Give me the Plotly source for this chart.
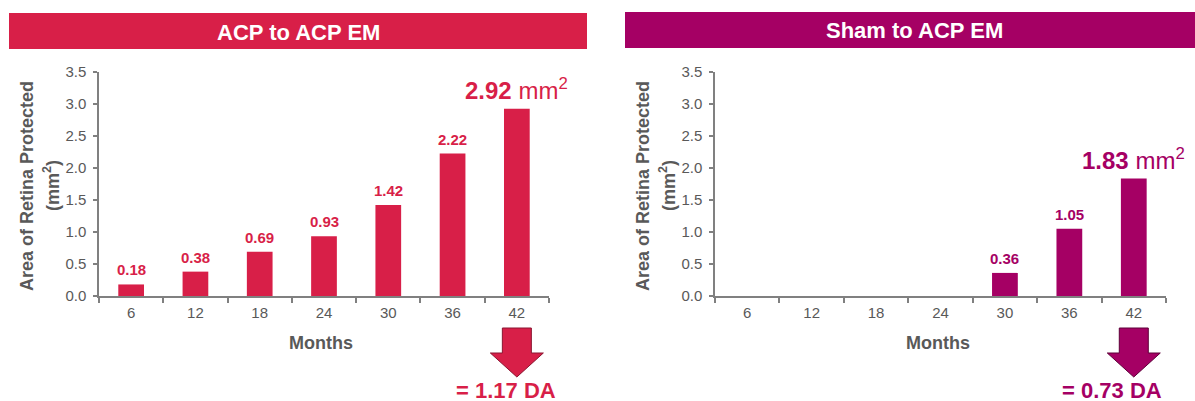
import plotly.graph_objects as go

# ---------------- data ----------------
months = ["6", "12", "18", "24", "30", "36", "42"]
acp_values = [0.18, 0.38, 0.69, 0.93, 1.42, 2.22, 2.92]
sham_values = [None, None, None, None, 0.36, 1.05, 1.83]
panel_titles = ["ACP to ACP EM", "Sham to ACP EM"]
da_labels = ["= 1.17 DA", "= 0.73 DA"]
y_ticks = [0.0, 0.5, 1.0, 1.5, 2.0, 2.5, 3.0, 3.5]

# ---------------- style ----------------
W, H = 1195, 401
RED = "#D81F48"
RED_DARK = "#8A1530"
PURPLE = "#A50064"
PURPLE_DARK = "#5E0039"
AXIS = "#808080"
TEXT = "#595959"
FONT = "Liberation Sans, Arial, sans-serif"

def fx(p):
    return p / W

def fy(p):
    return 1 - p / H

panels = [
    dict(values=acp_values, color=RED, dark=RED_DARK, x0=99, x1=549,
         hdr=(9, 587, 13, 49), title_x=298, da_x=506, xa="x", ya="y"),
    dict(values=sham_values, color=PURPLE, dark=PURPLE_DARK, x0=715, x1=1166,
         hdr=(625, 1195, 12, 48), title_x=914, da_x=1112, xa="x2", ya="y2"),
]
Y0_PX, Y1_PX = 296, 71.5

fig = go.Figure()
annotations = []
shapes = []

def paper_text(xp, yp, text, size, color, angle=0):
    return dict(x=fx(xp), y=fy(yp), xref="paper", yref="paper", showarrow=False,
                xanchor="center", yanchor="middle", textangle=angle, text=text,
                font=dict(family=FONT, size=size, color=color))

for i, p in enumerate(panels):
    fig.add_trace(go.Bar(
        x=months, y=p["values"], width=0.4,
        marker=dict(color=p["color"], line=dict(width=0)),
        xaxis=p["xa"], yaxis=p["ya"], showlegend=False, hoverinfo="x+y",
    ))
    # value labels (x given as category index)
    last = len(months) - 1
    for j, v in enumerate(p["values"]):
        if v is None:
            continue
        if j == last:
            annotations.append(dict(
                x=j, y=v, xref=p["xa"], yref=p["ya"], xanchor="center",
                yanchor="bottom", yshift=3, showarrow=False,
                text=f"<b>{v:.2f}</b> mm<sup>2</sup>",
                font=dict(family=FONT, size=24, color=p["color"]),
            ))
        else:
            annotations.append(dict(
                x=j, y=v, xref=p["xa"], yref=p["ya"], xanchor="center",
                yanchor="bottom", yshift=4, showarrow=False, text=f"<b>{v:.2f}</b>",
                font=dict(family=FONT, size=15, color=p["color"]),
            ))
    # header bar
    hx0, hx1, hy0, hy1 = p["hdr"]
    shapes.append(dict(type="rect", xref="paper", yref="paper",
                       x0=fx(hx0), x1=fx(hx1), y0=fy(hy1), y1=fy(hy0),
                       fillcolor=p["color"], line=dict(width=0), layer="below"))
    annotations.append(paper_text(p["title_x"], (hy0 + hy1) / 2 + 1,
                                  f"<b>{panel_titles[i]}</b>", 22, "white"))
    # y axis title (two lines)
    annotations.append(paper_text(p["x0"] - 72, 186, "<b>Area of Retina Protected</b>",
                                  18, TEXT, -90))
    annotations.append(paper_text(p["x0"] - 48, 186, "<b>(mm<sup>2</sup>)</b>",
                                  18, TEXT, -90))
    # x axis title
    annotations.append(paper_text((p["x0"] + p["x1"]) / 2 - 3, 343, "<b>Months</b>",
                                  18, TEXT))
    # down arrow under the last category
    cw = (p["x1"] - p["x0"]) / len(months)
    cx = p["x0"] + (last + 0.5) * cw
    sh, hh, top, mid, tip = 14.5, 26.5, 328, 353, 377
    pts = [(cx - sh, top), (cx + sh, top), (cx + sh, mid), (cx + hh, mid),
           (cx, tip), (cx - hh, mid), (cx - sh, mid)]
    path = "M " + " L ".join(f"{fx(a):.5f},{fy(b):.5f}" for a, b in pts) + " Z"
    shapes.append(dict(type="path", xref="paper", yref="paper", path=path,
                       fillcolor=p["color"], line=dict(color=p["dark"], width=1)))
    annotations.append(paper_text(p["da_x"], 390, f"<b>{da_labels[i]}</b>",
                                  22, p["color"]))

xaxis_common = dict(
    type="category", range=[-0.5, 6.5], showline=True, linecolor=AXIS, linewidth=2,
    ticks="outside", tickson="boundaries", ticklen=5, tickcolor=AXIS, tickwidth=1.5,
    tickfont=dict(family=FONT, size=15, color=TEXT), showgrid=False, zeroline=False,
    fixedrange=True, ticklabelstandoff=2,
)
yaxis_common = dict(
    range=[0, 3.5], tickvals=y_ticks, ticktext=[f"{t:.1f}" for t in y_ticks],
    showline=True, linecolor=AXIS, linewidth=1.5, ticks="outside", ticklen=4,
    tickcolor=AXIS, tickwidth=1.5, tickfont=dict(family=FONT, size=15, color=TEXT),
    showgrid=False, zeroline=False, fixedrange=True, ticklabelstandoff=4,
)

fig.update_layout(
    width=W, height=H, margin=dict(l=0, r=0, t=0, b=0, autoexpand=False),
    paper_bgcolor="white", plot_bgcolor="white",
    xaxis=dict(domain=[fx(99), fx(549)], anchor="y", **xaxis_common),
    yaxis=dict(domain=[fy(Y0_PX), fy(Y1_PX)], anchor="x", **yaxis_common),
    xaxis2=dict(domain=[fx(715), fx(1166)], anchor="y2", **xaxis_common),
    yaxis2=dict(domain=[fy(Y0_PX), fy(Y1_PX)], anchor="x2", **yaxis_common),
    annotations=annotations, shapes=shapes, bargap=0.6,
)

fig.write_html("out.html")
